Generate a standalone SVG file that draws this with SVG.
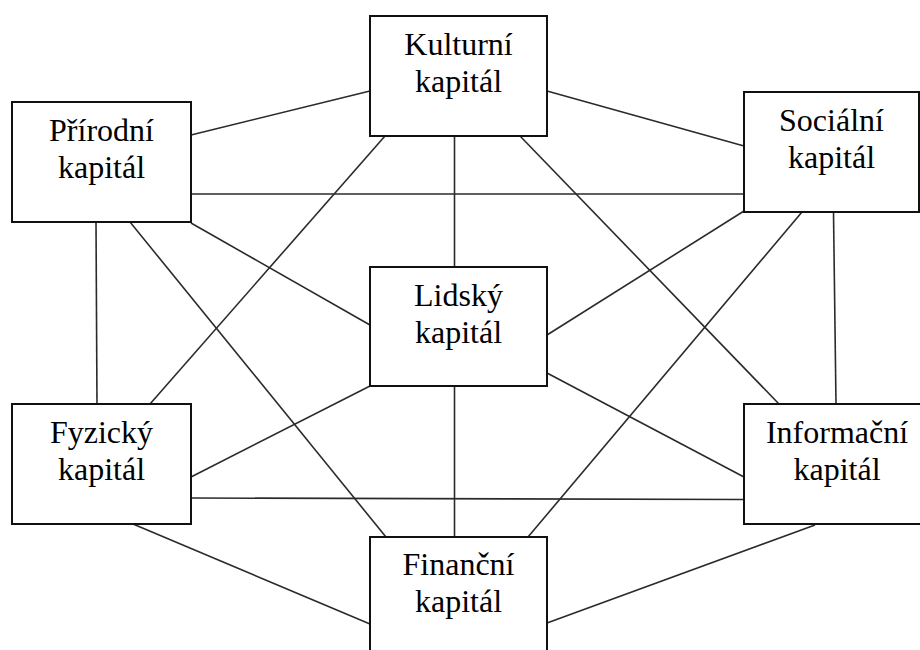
<svg xmlns="http://www.w3.org/2000/svg" width="920" height="650" viewBox="0 0 920 650">
<style>
.box{fill:#fff;stroke:#111;stroke-width:2}
.ln{stroke:#2a2a2a;stroke-width:1.6;fill:none}
.t{font-family:'Liberation Serif','Times New Roman',serif;font-size:32px;fill:#000;text-anchor:middle}
</style>
<rect x="0" y="0" width="920" height="650" fill="#fff"/>
<g id="connectors">
<line class="ln" x1="191" y1="135" x2="370" y2="91"/>
<line class="ln" x1="547" y1="91" x2="744" y2="146"/>
<line class="ln" x1="191" y1="194" x2="744" y2="194"/>
<line class="ln" x1="454.5" y1="136" x2="454.5" y2="267"/>
<line class="ln" x1="385" y1="136" x2="150" y2="404"/>
<line class="ln" x1="520" y1="136" x2="779" y2="404"/>
<line class="ln" x1="191" y1="223" x2="370" y2="325"/>
<line class="ln" x1="130" y1="222" x2="386" y2="537"/>
<line class="ln" x1="96" y1="222" x2="97" y2="404"/>
<line class="ln" x1="744" y1="211" x2="547" y2="335"/>
<line class="ln" x1="802" y1="212" x2="528" y2="537"/>
<line class="ln" x1="833.5" y1="212" x2="836" y2="404"/>
<line class="ln" x1="370" y1="386" x2="191" y2="477"/>
<line class="ln" x1="547" y1="373" x2="744" y2="477"/>
<line class="ln" x1="454.5" y1="386" x2="454.5" y2="537"/>
<line class="ln" x1="191" y1="498" x2="744" y2="499.5"/>
<line class="ln" x1="133" y1="524" x2="370" y2="624"/>
<line class="ln" x1="815" y1="525" x2="547" y2="623"/>
</g>
<g id="kulturni">
<rect class="box" x="370" y="16" width="177" height="120"/>
<text class="t" x="458.5" y="55">Kulturní</text>
<text class="t" x="458.5" y="92">kapitál</text>
</g>
<g id="prirodni">
<rect class="box" x="12" y="102" width="179" height="120"/>
<text class="t" x="101.5" y="141">Přírodní</text>
<text class="t" x="101.5" y="178">kapitál</text>
</g>
<g id="socialni">
<rect class="box" x="744" y="92" width="175" height="120"/>
<text class="t" x="831.5" y="131">Sociální</text>
<text class="t" x="831.5" y="168">kapitál</text>
</g>
<g id="lidsky">
<rect class="box" x="370" y="267" width="177" height="119"/>
<text class="t" x="458.5" y="306">Lidský</text>
<text class="t" x="458.5" y="343">kapitál</text>
</g>
<g id="fyzicky">
<rect class="box" x="12" y="404" width="179" height="120"/>
<text class="t" x="101.5" y="443">Fyzický</text>
<text class="t" x="101.5" y="480">kapitál</text>
</g>
<g id="informacni">
<rect class="box" x="744" y="404" width="187" height="120"/>
<text class="t" x="837" y="443">Informační</text>
<text class="t" x="837" y="480">kapitál</text>
</g>
<g id="financni">
<rect class="box" x="370" y="537" width="177" height="130"/>
<text class="t" x="458.5" y="575">Finanční</text>
<text class="t" x="458.5" y="612">kapitál</text>
</g>
</svg>
